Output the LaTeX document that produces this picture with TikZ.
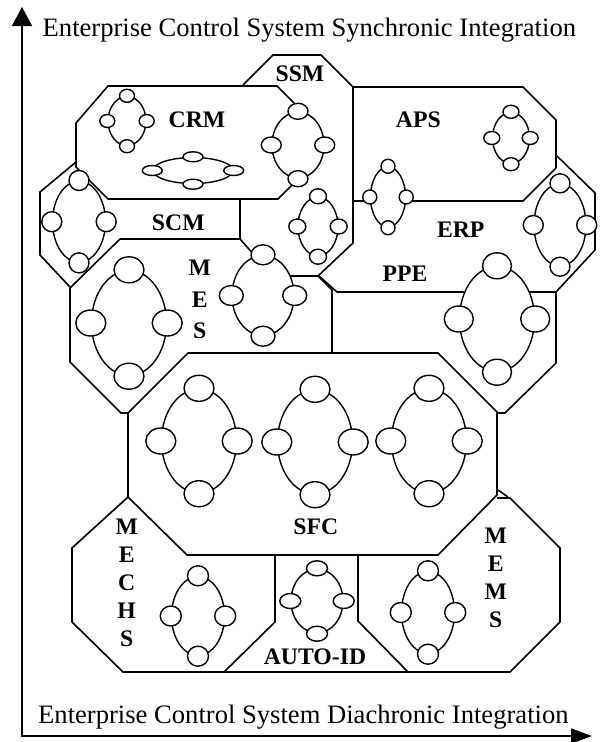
\documentclass[tikz,border=0pt]{standalone}
\usepackage{fontspec}
\setmainfont{Liberation Serif}
\usetikzlibrary{shapes.geometric,arrows.meta}
\newcommand{\ringset}[7]{%
  \node[ring, minimum width=#4pt, minimum height=#5pt] (#1) at (#2,#3) {};
  \foreach \a in {north,south,east,west}
    \node[dot, minimum width=#6pt, minimum height=#7pt] (#1-\a) at (#1.\a) {};
}
\begin{document}
\begin{tikzpicture}[x=1pt,y=-1pt,
  edge/.style={line width=1.6pt, line join=miter},
  ring/.style={ellipse, draw, line width=1.4pt, fill=white, inner sep=0pt},
  dot/.style={ellipse, draw, line width=1.4pt, fill=white, inner sep=0pt},
  lbl/.style={font=\fontsize{23.7}{28}\selectfont\bfseries, inner sep=0pt},
  axtitle/.style={font=\fontsize{26.6}{30}\selectfont, inner sep=0pt, anchor=base west},
  axisline/.style={line width=1.6pt, line join=miter,
    {Triangle[width=20pt,length=19pt]}-{Triangle[width=15pt,length=21pt]}}
]
\useasboundingbox[fill=white] (0,0) rectangle (601,742);

% axes
\coordinate (ytip) at (22,7);
\coordinate (origin) at (22,736);
\coordinate (xtip) at (592,736);
\draw[axisline] (ytip) -- (origin) -- (xtip);
\node[axtitle] (ytitle) at (42.5,36) {Enterprise Control System Synchronic Integration};
\node[axtitle] (xtitle) at (38,723) {Enterprise Control System Diachronic Integration};

% SSM
\draw[edge] (243,85) -- (273,55) -- (321,55) -- (353,87) -- (353,243) -- (318,276) -- (285,276);
% APS
\draw[edge] (353,87) -- (523,87) -- (556,120) -- (556,168) -- (523,201) -- (353,201);
% ERP
\draw[edge] (556,155) -- (595,193) -- (595,250) -- (556,292) -- (337,292) -- (319,276);
% PPE
\draw[edge] (556,292) -- (556,363) -- (505,413) -- (497,413);
\draw[edge] (318,276) -- (332,290) -- (332,353);
% CRM
\draw[edge] (300,109) -- (277,86) -- (108,86) -- (76,123) -- (76,167) -- (108,199) -- (278,199) -- (296,181);
% SCM
\draw[edge] (76,162) -- (40,192) -- (40,255) -- (70,287);
\draw[edge] (240,199) -- (240,239) -- (255,256);
% MES
\draw[edge] (240,239) -- (120,239) -- (70,288) -- (70,362) -- (121,413) -- (128,413);
% SFC
\draw[edge] (128,413) -- (188,353) -- (438,353) -- (497,412) -- (497,495) -- (438,555) -- (187,555) -- (128,497) -- cycle;
% MECHS, AUTO-ID, MEMS
\draw[edge] (128,497) -- (72,548) -- (72,622) -- (123,672) -- (510,672) -- (560,622) -- (560,548) -- (510,498) -- (497,498);
\draw[edge] (275,555) -- (275,622) -- (224,672);
\draw[edge] (358,555) -- (358,621) -- (408,672);
\draw[edge] (498,490) -- (508,497);

% rings
\ringset{crmA}{127}{121}{38}{49}{15}{13}
\ringset{crmB}{193}{170.5}{80}{26}{20}{10}
\ringset{ssmA}{298}{145}{52}{66}{20}{16}
\ringset{ssmB}{318}{226.5}{40}{59}{17}{15}
\ringset{apsA}{511}{138}{37}{51}{16}{13}
\ringset{apsB}{388}{197}{35}{60}{14}{14}
\ringset{erpA}{560}{225}{52}{82}{20}{19}
\ringset{ppeA}{497}{319}{75}{105}{29}{26}
\ringset{mesB}{263}{295.5}{62}{80}{24}{20}
\ringset{mesA}{129}{323}{75}{105}{30}{26}
\ringset{scmA}{79}{221.7}{53}{81}{20}{20}
\ringset{sfcA}{199}{441}{75}{104}{30}{26}
\ringset{sfcB}{315}{442}{75}{104}{30}{26}
\ringset{sfcC}{429}{441}{75}{104}{30}{26}
\ringset{mechsA}{198}{616}{53}{79}{21}{20}
\ringset{autoA}{317}{601}{52}{64}{21}{15}
\ringset{memsA}{428}{612.5}{53}{82}{21}{20}

% labels
\node[lbl] (ssm) at (300,73.5) {SSM};
\node[lbl] (crm) at (197,120) {CRM};
\node[lbl] (aps) at (418.3,119.5) {APS};
\node[lbl] (erp) at (460.7,230) {ERP};
\node[lbl] (scm) at (178.3,222.3) {SCM};
\node[lbl] (ppe) at (405,274) {PPE};
\node[lbl] (sfc) at (315.8,526.7) {SFC};
\node[lbl] (autoid) at (315,657) {AUTO-ID};
\node[lbl, align=center, font=\fontsize{23.7}{31.5}\selectfont\bfseries] (mes) at (199.7,299.8) {M\\E\\S};
\node[lbl, align=center, font=\fontsize{23.7}{28}\selectfont\bfseries] (mechs) at (126.7,583.3) {M\\E\\C\\H\\S};
\node[lbl, align=center, font=\fontsize{23.7}{28}\selectfont\bfseries] (mems) at (495.8,578.3) {M\\E\\M\\S};
\end{tikzpicture}
\end{document}
